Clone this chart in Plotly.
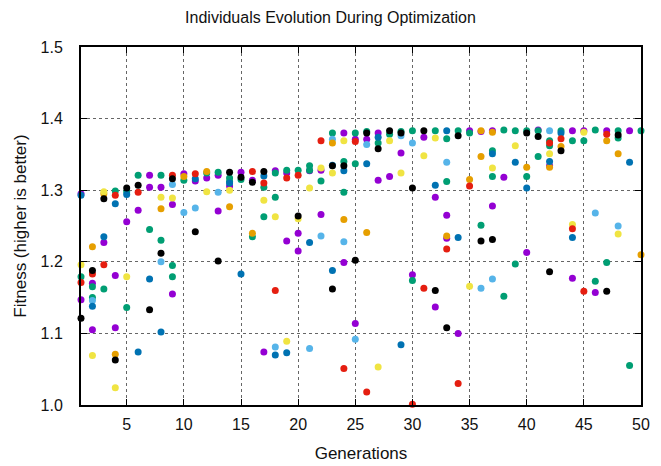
import plotly.graph_objects as go

# Generation / fitness pairs per colour (individual group)
purple_gen = [1, 1, 2, 2, 3, 4, 4, 5, 6, 7, 7, 8, 9, 9, 10, 11, 12, 13, 13, 14, 15, 16, 17, 18, 19, 19, 20, 20, 21, 22, 22, 24, 24, 25, 25, 26, 27, 27, 28, 29, 30, 31, 32, 32, 33, 33, 34, 35, 36, 37, 37, 38, 40, 41, 42, 44, 44, 45, 46, 47, 49]
purple_fit = [1.295, 1.147, 1.170, 1.105, 1.227, 1.181, 1.108, 1.256, 1.272, 1.321, 1.304, 1.304, 1.280, 1.155, 1.323, 1.313, 1.317, 1.321, 1.271, 1.306, 1.325, 1.314, 1.074, 1.327, 1.324, 1.229, 1.240, 1.215, 1.327, 1.328, 1.266, 1.380, 1.199, 1.371, 1.114, 1.371, 1.380, 1.314, 1.319, 1.352, 1.182, 1.374, 1.290, 1.137, 1.265, 1.233, 1.100, 1.383, 1.382, 1.383, 1.278, 1.318, 1.213, 1.384, 1.334, 1.383, 1.177, 1.383, 1.157, 1.383, 1.383]

green_gen = [1, 2, 2, 3, 4, 5, 5, 6, 7, 8, 8, 9, 9, 10, 12, 13, 14, 14, 15, 16, 17, 17, 18, 18, 19, 20, 21, 21, 22, 23, 24, 24, 25, 25, 26, 27, 28, 29, 30, 30, 32, 33, 33, 34, 35, 36, 37, 37, 38, 38, 39, 39, 40, 40, 41, 41, 42, 42, 43, 44, 45, 46, 46, 47, 48, 48, 49, 50]
green_fit = [1.179, 1.165, 1.150, 1.162, 1.299, 1.298, 1.136, 1.321, 1.245, 1.321, 1.230, 1.195, 1.179, 1.314, 1.324, 1.325, 1.317, 1.312, 1.315, 1.235, 1.304, 1.263, 1.324, 1.290, 1.328, 1.328, 1.334, 1.328, 1.313, 1.380, 1.340, 1.297, 1.380, 1.337, 1.382, 1.366, 1.378, 1.382, 1.383, 1.174, 1.383, 1.372, 1.312, 1.383, 1.380, 1.251, 1.355, 1.319, 1.384, 1.152, 1.383, 1.197, 1.383, 1.319, 1.383, 1.347, 1.369, 1.362, 1.383, 1.369, 1.369, 1.384, 1.173, 1.199, 1.383, 1.373, 1.055, 1.383]

lightblue_gen = [2, 8, 9, 10, 11, 13, 18, 21, 22, 23, 24, 25, 26, 29, 30, 33, 36, 37, 42, 46, 48]
lightblue_fit = [1.146, 1.200, 1.308, 1.269, 1.275, 1.297, 1.081, 1.079, 1.236, 1.371, 1.228, 1.092, 1.364, 1.376, 1.366, 1.339, 1.163, 1.176, 1.383, 1.268, 1.250]

orange_gen = [2, 3, 4, 8, 10, 12, 14, 16, 23, 24, 26, 33, 35, 36, 36, 37, 40, 42, 43, 47, 48, 50]
orange_fit = [1.221, 1.295, 1.071, 1.274, 1.319, 1.326, 1.277, 1.240, 1.366, 1.259, 1.241, 1.236, 1.315, 1.383, 1.347, 1.381, 1.332, 1.332, 1.361, 1.369, 1.351, 1.210]

yellow_gen = [1, 2, 3, 4, 5, 8, 9, 12, 14, 17, 18, 19, 20, 21, 22, 23, 24, 27, 28, 29, 31, 32, 35, 37, 39, 42, 44, 45, 48]
yellow_fit = [1.196, 1.069, 1.298, 1.024, 1.179, 1.290, 1.289, 1.298, 1.300, 1.286, 1.263, 1.089, 1.260, 1.303, 1.331, 1.324, 1.369, 1.053, 1.369, 1.324, 1.348, 1.373, 1.166, 1.331, 1.362, 1.351, 1.252, 1.381, 1.239]

blue_gen = [1, 2, 3, 4, 5, 6, 7, 8, 11, 14, 15, 17, 18, 19, 21, 23, 23, 24, 26, 27, 29, 32, 33, 34, 37, 39, 40, 42, 43, 44, 49]
blue_fit = [1.293, 1.138, 1.235, 1.281, 1.294, 1.074, 1.176, 1.102, 1.316, 1.310, 1.183, 1.320, 1.070, 1.073, 1.227, 1.335, 1.188, 1.327, 1.337, 1.374, 1.084, 1.307, 1.383, 1.234, 1.351, 1.339, 1.303, 1.340, 1.380, 1.234, 1.339]

red_gen = [1, 2, 3, 4, 6, 9, 11, 16, 17, 18, 19, 20, 22, 24, 25, 26, 30, 31, 33, 34, 35, 42, 43, 44, 45, 47]
red_fit = [1.171, 1.183, 1.196, 1.293, 1.297, 1.321, 1.323, 1.326, 1.310, 1.160, 1.317, 1.321, 1.369, 1.051, 1.368, 1.018, 1.001, 1.163, 1.218, 1.030, 1.306, 1.366, 1.372, 1.246, 1.159, 1.378]

black_gen = [1, 2, 3, 4, 5, 6, 7, 8, 9, 11, 13, 14, 15, 16, 17, 20, 23, 23, 24, 25, 26, 27, 28, 29, 30, 31, 32, 33, 34, 36, 37, 40, 41, 42, 43, 47, 48]
black_fit = [1.121, 1.188, 1.288, 1.063, 1.303, 1.307, 1.133, 1.212, 1.316, 1.242, 1.201, 1.325, 1.318, 1.311, 1.326, 1.264, 1.334, 1.162, 1.334, 1.202, 1.380, 1.358, 1.383, 1.380, 1.303, 1.383, 1.160, 1.108, 1.376, 1.229, 1.231, 1.380, 1.375, 1.186, 1.355, 1.159, 1.377]

x_ticks = [5, 10, 15, 20, 25, 30, 35, 40, 45, 50]
y_ticks = [1.0, 1.1, 1.2, 1.3, 1.4, 1.5]

series = [
    (purple_gen, purple_fit, "#9400D3"),
    (green_gen, green_fit, "#009E73"),
    (lightblue_gen, lightblue_fit, "#56B4E9"),
    (orange_gen, orange_fit, "#E69F00"),
    (yellow_gen, yellow_fit, "#F0E442"),
    (blue_gen, blue_fit, "#0072B2"),
    (red_gen, red_fit, "#E51E10"),
    (black_gen, black_fit, "#000000"),
]

fig = go.Figure()
for gx, gy, col in series:
    fig.add_trace(go.Scatter(x=gx, y=gy, mode="markers",
                             marker=dict(color=col, size=7, line=dict(width=0)),
                             cliponaxis=False, showlegend=False))

font = "Liberation Sans, Arial, sans-serif"
axis_common = dict(showline=True, linecolor="black", linewidth=2, mirror="ticks",
                   ticks="inside", ticklen=6, tickcolor="black", tickwidth=1,
                   showgrid=True, gridcolor="#666666", griddash="dot", gridwidth=1,
                   zeroline=False, automargin=False,
                   tickfont=dict(family=font, size=16, color="#111"))

fig.update_layout(
    width=661, height=466,
    margin=dict(l=81, r=20, t=47, b=61),
    paper_bgcolor="white", plot_bgcolor="white",
    title=dict(text="Individuals Evolution During Optimization", x=0.5, xanchor="center",
               y=0.963, yanchor="middle", font=dict(family=font, size=16, color="#111")),
    xaxis=dict(range=[1, 50], tickvals=x_ticks, ticklabelstandoff=4,
               title=dict(text="Generations", font=dict(family=font, size=17, color="#111"), standoff=15),
               **axis_common),
    yaxis=dict(range=[1.0, 1.5], tickvals=y_ticks, tickformat=".1f", ticklabelstandoff=13,
               title=dict(text="Fitness (higher is better)", font=dict(family=font, size=17, color="#111"), standoff=10),
               **axis_common),
)

fig.write_html("out.html")
